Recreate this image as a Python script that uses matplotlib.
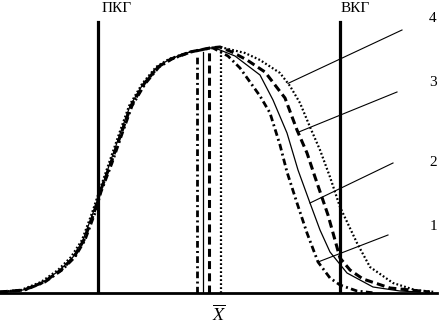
import numpy as np
import matplotlib
matplotlib.use("Agg")
import matplotlib.pyplot as plt

# rising (left) branches: heights shared, x positions read per curve
left_h = [1, 3, 11, 23, 36, 53, 80, 101, 130, 159, 187, 209, 226, 234, 241, 245]
c1_lx = [0, 25, 45, 62, 75, 85, 95, 101, 112, 122, 132, 145, 159, 172, 191, 211]
c2_lx = [0, 23, 43, 60, 73, 83, 93, 100, 110, 120, 130, 143, 157, 170, 190, 210]
c3_lx = [0, 24, 44, 61, 74, 84, 94, 100, 111, 121, 131, 144, 158, 171, 190, 210]
c4_lx = [0, 21, 41, 58, 71, 82, 92, 99, 109, 119, 129, 142, 156, 169, 189, 210]

# falling (right) branches for curves 1..4
c1_x = [213, 228, 240, 260, 270, 280, 287, 297, 307, 318, 330, 340, 357, 375]
c1_h = [245, 237, 225, 197, 180, 148, 121, 90, 60, 31, 15, 8, 2, 0]
c2_x = [215, 235, 260, 273, 287, 298, 310, 320, 330, 347, 373, 400, 420]
c2_h = [245, 237, 218, 193, 160, 123, 90, 63, 41, 20, 6, 2, 1]
c3_x = [220, 232, 247, 265, 285, 297, 307, 315, 328, 340, 350, 363, 390, 430]
c3_h = [246, 241, 233, 221, 195, 163, 140, 116, 78, 35, 23, 14, 5, 1]
c4_x = [220, 245, 260, 280, 290, 300, 310, 320, 330, 340, 357, 370, 393, 415, 435]
c4_h = [246, 240, 233, 220, 207, 190, 166, 143, 116, 86, 50, 26, 10, 3, 1]

means = [197, 203, 209, 221]
mean_tops = [238, 241, 243, 243]
curve_labels = ["1", "2", "3", "4"]
lsl, usl = 98, 340
limit_labels = ["ПКГ", "ВКГ"]

fig = plt.figure(figsize=(4.4, 3.26), dpi=100)
ax = fig.add_axes([0, 33 / 326, 1, 293 / 326])
ax.set_xlim(0, 440)
ax.set_ylim(0, 293)
ax.axis("off")

styles = [
    dict(color="black", lw=2.0, linestyle=(0, (2.4, 1.2, 0.7, 1.2))),
    dict(color="black", lw=0.9, linestyle="-"),
    dict(color="black", lw=2.2, linestyle=(0, (2.6, 1.4))),
    dict(color="black", lw=1.6, linestyle=(0, (0.8, 1.0))),
]
lefts = [c1_lx, c2_lx, c3_lx, c4_lx]
rights = [(c1_x, c1_h), (c2_x, c2_h), (c3_x, c3_h), (c4_x, c4_h)]
for lx_, (rx, rh), st, m, mt in zip(lefts, rights, styles, means, mean_tops):
    x = list(lx_) + list(rx)
    h = list(left_h) + list(rh)
    ax.plot(x, h, **st, clip_on=False)
    ax.plot([m, m], [0, mt], **st)

# baseline
ax.plot([0, 437], [0, 0], color="black", lw=2.0, clip_on=False)

# tolerance limits
for xv, lab, tx in zip([lsl, usl], limit_labels, [117, 355]):
    ax.plot([xv, xv], [0, 271], color="black", lw=2.3)
    ax.text(tx, 285, lab, ha="center", va="center", fontsize=11,
            family="Liberation Serif")

# leader lines
lead_x = [318, 310, 298, 288]
lead_end = [(388, 58), (393, 130), (397, 201), (402, 263)]
label_pos = [(433, 67), (433, 130), (433, 211), (433, 274)]
for (rx, rh), lx, (ex, ey), (tx, ty), lab in zip(rights, lead_x, lead_end,
                                                  label_pos, curve_labels):
    ly = np.interp(lx, rx, rh)
    ax.plot([lx, ex], [ly, ey], color="black", lw=0.8)
    ax.text(tx, ty, lab, ha="center", va="center", fontsize=11,
            family="Liberation Serif")

ax.text(219, -21, r"$\overline{X}$", ha="center", va="center", fontsize=13,
        math_fontfamily="stix", clip_on=False)

fig.savefig("out.png", dpi=100)
